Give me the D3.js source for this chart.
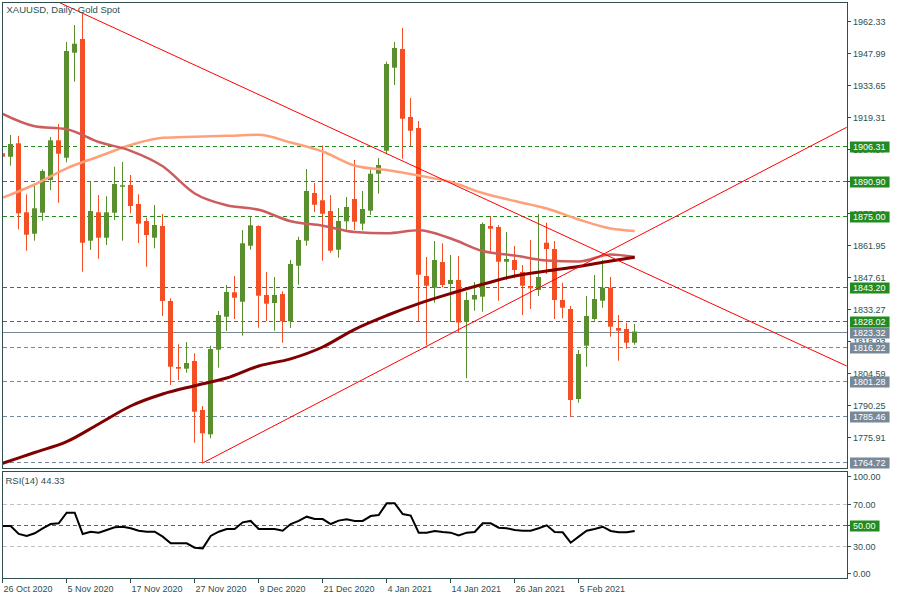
<!DOCTYPE html>
<html>
<head>
<meta charset="utf-8">
<script src="https://cdn.jsdelivr.net/npm/d3@7"></script>
<style>
  body { margin: 0; background: #fff; }
  svg { display: block; }
  text { font-family: "Liberation Sans", Arial, sans-serif; }
</style>
</head>
<body>
<svg id="chart" width="900" height="600"></svg>
<script>
// XAUUSD daily candles, 26 Oct 2020 .. 16 Feb 2021 (bar index 0..79)
var open  = [1903.17, 1901.65, 1907.66, 1876.74, 1867.15, 1876.56, 1891.21, 1909.00, 1901.20, 1948.26,
             1954.40, 1864.01, 1876.74, 1865.35, 1876.56, 1888.21, 1888.97, 1880.46, 1872.84, 1865.35,
             1870.60, 1836.99, 1807.41, 1806.65, 1810.10, 1788.14, 1777.25, 1815.16, 1829.95, 1840.89,
             1836.67, 1861.77, 1870.60, 1839.68, 1836.09, 1840.12, 1827.89, 1852.81, 1864.01, 1885.39,
             1882.12, 1877.32, 1859.98, 1872.70, 1882.70, 1871.63, 1877.45, 1894.03, 1904.34, 1941.53,
             1949.92, 1919.44, 1914.51, 1848.19, 1842.95, 1854.46, 1844.61, 1846.40, 1827.71, 1837.66,
             1838.92, 1870.60, 1870.15, 1854.60, 1855.36, 1849.98, 1843.71, 1841.92, 1863.11, 1860.29,
             1837.44, 1833.40, 1793.07, 1816.96, 1828.92, 1837.12, 1842.95, 1824.89, 1824.44, 1818.30]
var high  = [1903.20, 1911.38, 1910.93, 1884.80, 1888.52, 1896.00, 1910.48, 1916.31, 1953.05, 1960.67,
             1965.91, 1890.32, 1884.49, 1883.91, 1897.17, 1899.29, 1893.45, 1884.80, 1874.32, 1880.01,
             1875.97, 1838.20, 1817.58, 1818.61, 1813.55, 1789.93, 1816.96, 1832.50, 1844.16, 1848.19,
             1868.81, 1874.94, 1870.91, 1850.00, 1847.74, 1841.33, 1855.36, 1865.80, 1896.14, 1889.87,
             1906.76, 1884.49, 1878.66, 1883.59, 1900.18, 1886.28, 1896.00, 1901.07, 1944.23, 1953.05,
             1959.33, 1927.96, 1917.65, 1856.70, 1863.87, 1862.84, 1857.60, 1857.15, 1841.16, 1845.50,
             1872.17, 1875.08, 1871.05, 1867.91, 1861.63, 1853.12, 1864.32, 1875.97, 1872.08, 1863.87,
             1845.19, 1834.75, 1815.03, 1839.23, 1848.64, 1855.36, 1847.74, 1830.71, 1827.26, 1826.68]
var low   = [1901.60, 1897.62, 1869.12, 1859.53, 1864.01, 1872.97, 1886.73, 1881.04, 1899.14, 1935.26,
             1850.12, 1859.84, 1855.94, 1862.08, 1873.29, 1864.01, 1876.29, 1862.98, 1852.36, 1860.60,
             1830.26, 1799.34, 1801.58, 1804.86, 1773.49, 1764.25, 1775.46, 1807.10, 1823.54, 1828.92,
             1821.44, 1859.98, 1825.02, 1828.02, 1823.68, 1818.30, 1824.89, 1844.29, 1861.77, 1876.87,
             1855.05, 1858.63, 1856.39, 1868.81, 1868.81, 1868.67, 1875.53, 1885.07, 1902.73, 1933.78,
             1900.76, 1906.45, 1827.89, 1817.27, 1836.22, 1843.13, 1827.58, 1822.87, 1802.35, 1832.64,
             1832.19, 1858.36, 1837.12, 1846.40, 1847.16, 1830.71, 1833.40, 1839.23, 1849.09, 1828.92,
             1829.24, 1784.87, 1791.41, 1807.55, 1828.16, 1833.99, 1820.99, 1810.24, 1815.61, 1817.40]
var close = [1901.65, 1907.34, 1876.29, 1866.70, 1878.53, 1895.24, 1909.00, 1903.00, 1949.02, 1952.29,
             1863.11, 1877.32, 1865.35, 1876.74, 1889.42, 1888.84, 1879.56, 1871.63, 1866.56, 1871.05,
             1836.99, 1807.55, 1806.65, 1809.20, 1787.38, 1777.70, 1815.48, 1830.71, 1841.02, 1838.47,
             1862.84, 1870.91, 1839.36, 1835.78, 1839.68, 1827.89, 1853.57, 1864.32, 1886.28, 1880.14,
             1876.11, 1859.53, 1872.84, 1879.11, 1872.52, 1878.21, 1894.03, 1897.93, 1943.19, 1950.36,
             1918.68, 1913.30, 1848.77, 1843.84, 1855.36, 1844.16, 1846.40, 1827.35, 1837.44, 1839.68,
             1871.49, 1869.39, 1854.60, 1855.81, 1850.88, 1843.84, 1842.68, 1847.74, 1860.29, 1837.44,
             1833.99, 1792.62, 1813.23, 1830.27, 1837.88, 1842.95, 1825.47, 1823.68, 1818.30, 1823.32]

var rsi14 = [49.1, 49.1, 41.6, 39.7, 42.2, 46.9, 50.9, 51.6, 61.6, 61.6,
             41.6, 43.7, 42.8, 45.3, 47.8, 48.4, 46.9, 44.7, 43.7, 43.7,
             39.1, 32.8, 32.8, 32.8, 28.7, 28.1, 39.7, 43.7, 46.2, 46.2,
             52.5, 53.8, 46.2, 46.2, 46.2, 44.7, 50.9, 53.8, 57.8, 55.6,
             55.6, 50.9, 54.1, 55.3, 53.8, 53.8, 58.4, 59.4, 70.3, 70.3,
             60.3, 58.8, 42.8, 42.8, 44.4, 43.4, 42.8, 40.3, 42.8, 43.4,
             51.6, 51.6, 47.5, 46.9, 45.3, 44.7, 44.7, 46.9, 49.7, 43.4,
             43.1, 33.4, 39.1, 44.7, 46.2, 48.4, 44.4, 43.1, 43.1, 44.33]

// moving averages read at every 4th bar
var maIdx     = [0, 4, 8, 12, 16, 20, 24, 28, 32, 36, 40, 44, 48, 52, 56, 60, 64, 68, 72, 76, 79]
var maSalmon  = [1883.28, 1889.20, 1896.46, 1901.74, 1906.90, 1910.12, 1910.61, 1911.02, 1911.47, 1908.02,
                 1903.98, 1897.62, 1895.69, 1893.23, 1890.31, 1885.39, 1881.80, 1878.44, 1873.51, 1869.48, 1868.36]
var maIndian  = [1920.79, 1915.28, 1913.93, 1908.24, 1904.30, 1897.35, 1885.16, 1879.87, 1877.86, 1872.75,
                 1870.73, 1867.91, 1867.33, 1868.67, 1865.00, 1859.39, 1857.38, 1855.14, 1854.69, 1857.83, 1856.71]
var maMaroon  = [1764.26, 1769.10, 1773.94, 1781.87, 1789.93, 1795.31, 1799.03, 1802.48, 1807.86, 1811.08,
                 1816.38, 1824.31, 1830.49, 1835.83, 1840.35, 1844.47, 1848.19, 1850.43, 1852.45, 1854.92, 1856.57]

var priceTicks  = [1962.33, 1947.99, 1933.65, 1919.31, 1904.97, 1890.63, 1876.29, 1861.95,
                   1847.61, 1833.27, 1818.93, 1804.59, 1790.25, 1775.91]
var greenLevels = [1906.31, 1890.90, 1875.00, 1843.20, 1828.02]
var grayLevels  = [1816.22, 1801.28, 1785.46, 1764.72]
var lastPrice   = 1823.32

var rsiTicks  = [100, 70, 50, 30, 0]
var rsiLast   = 44.33

var dateTickIdx    = [0, 8, 16, 24, 32, 40, 48, 56, 64, 72]
var dateTickLabels = ['26 Oct 2020', '5 Nov 2020', '17 Nov 2020', '27 Nov 2020', '9 Dec 2020',
                      '21 Dec 2020', '4 Jan 2021', '14 Jan 2021', '26 Jan 2021', '5 Feb 2021']

// trend lines as [bar index, price]
var trendDown = [[10, 1965.9], [105.5, 1807.86]]
var trendUp   = [[25, 1764.4], [105.5, 1914.83]]

var frameColor = '#2f4f4f'
var upColor = '#5a8f30', downColor = '#f44e24'
var levelGreen = '#228b22', levelGray = '#778899'

var svg = d3.select('#chart')

var x  = d3.scaleLinear().domain([0, 105.5]).range([2.7, 846.7])
var y  = d3.scaleLinear().domain([1775.91, 1962.33]).range([437.3, 21.3])
var yr = d3.scaleLinear().domain([0, 100]).range([578.3, 471.7])

var defs = svg.append('defs')
defs.append('clipPath').attr('id', 'clipMain')
  .append('rect').attr('x', 3).attr('y', 3).attr('width', 844).attr('height', 465)
defs.append('clipPath').attr('id', 'clipRsi')
  .append('rect').attr('x', 3).attr('y', 472).attr('width', 844).attr('height', 106)

var main = svg.append('g').attr('clip-path', 'url(#clipMain)')

// horizontal levels
function levelLine(g, yy, color, dash) {
  g.append('line')
    .attr('x1', 3).attr('x2', 847)
    .attr('y1', Math.round(yy) + 0.5).attr('y2', Math.round(yy) + 0.5)
    .attr('stroke', color).attr('stroke-width', 1)
    .attr('stroke-dasharray', dash)
}
greenLevels.forEach(function (p) { levelLine(main, y(p), levelGreen, '4,3') })
grayLevels.forEach(function (p) { levelLine(main, y(p), levelGray, '4,3') })
levelLine(main, y(lastPrice), levelGray, null)

// candles
var bars = d3.range(open.length)
var candle = main.append('g').selectAll('g').data(bars).enter().append('g')
candle.append('line')
  .attr('x1', function (i) { return Math.floor(x(i)) + 0.5 })
  .attr('x2', function (i) { return Math.floor(x(i)) + 0.5 })
  .attr('y1', function (i) { return y(high[i]) })
  .attr('y2', function (i) { return y(low[i]) })
  .attr('stroke', function (i) { return close[i] >= open[i] ? upColor : downColor })
  .attr('stroke-width', 1)
candle.append('rect')
  .attr('x', function (i) { return Math.floor(x(i)) - 2 })
  .attr('width', 5)
  .attr('y', function (i) { return y(Math.max(open[i], close[i])) })
  .attr('height', function (i) { return Math.max(1.5, Math.abs(y(open[i]) - y(close[i]))) })
  .attr('fill', function (i) { return close[i] >= open[i] ? upColor : downColor })

// moving averages
var maLine = d3.line()
  .curve(d3.curveMonotoneX)
  .x(function (d) { return x(d[0]) })
  .y(function (d) { return y(d[1]) })
function drawMA(values, color, w) {
  main.append('path')
    .datum(maIdx.map(function (idx, k) { return [idx, values[k]] }))
    .attr('d', maLine)
    .attr('fill', 'none').attr('stroke', color).attr('stroke-width', w)
}
drawMA(maSalmon, '#ffa07a', 2.5)
drawMA(maIndian, '#cd5c5c', 2.5)
drawMA(maMaroon, '#800000', 3)

// trend lines
function priceAt(t, i) {
  var k = (t[1][1] - t[0][1]) / (t[1][0] - t[0][0])
  return t[0][1] + k * (i - t[0][0])
}
main.append('line')
  .attr('x1', x(0)).attr('y1', y(priceAt(trendDown, 0)))
  .attr('x2', x(trendDown[1][0])).attr('y2', y(trendDown[1][1]))
  .attr('stroke', '#ff0000').attr('stroke-width', 1)
main.append('line')
  .attr('x1', x(trendUp[0][0])).attr('y1', y(trendUp[0][1]))
  .attr('x2', x(trendUp[1][0])).attr('y2', y(trendUp[1][1]))
  .attr('stroke', '#ff0000').attr('stroke-width', 1)

// frames
svg.append('rect').attr('x', 2.5).attr('y', 2.5).attr('width', 845).attr('height', 466)
  .attr('fill', 'none').attr('stroke', frameColor)
svg.append('rect').attr('x', 2.5).attr('y', 471.5).attr('width', 845).attr('height', 107)
  .attr('fill', 'none').attr('stroke', frameColor)

// price axis
var axisG = svg.append('g')
priceTicks.forEach(function (p) {
  var yy = Math.round(y(p)) + 0.5
  axisG.append('line').attr('x1', 847.5).attr('x2', 851).attr('y1', yy).attr('y2', yy)
    .attr('stroke', frameColor)
  axisG.append('text').attr('x', 853).attr('y', yy).attr('dy', '0.35em')
    .attr('font-size', 9).attr('fill', frameColor).text(p.toFixed(2))
})

function tagLabel(yy, value, color) {
  var g = svg.append('g')
  var t = g.append('text').attr('x', 853).attr('y', yy).attr('dy', '0.35em')
    .attr('font-size', 9).attr('fill', '#fff').text(value)
  var w = t.node().getComputedTextLength()
  g.insert('rect', 'text').attr('x', 850).attr('y', yy - 5).attr('width', w + 7).attr('height', 11)
    .attr('fill', color)
}
greenLevels.forEach(function (p) { tagLabel(Math.round(y(p)) + 0.5, p.toFixed(2), levelGreen) })
grayLevels.forEach(function (p) { tagLabel(Math.round(y(p)) + 0.5, p.toFixed(2), levelGray) })
tagLabel(Math.round(y(lastPrice)) + 0.5, lastPrice.toFixed(2), levelGray)

svg.append('text').attr('x', 6.5).attr('y', 13).attr('font-size', 9.5).attr('fill', frameColor)
  .text('XAUUSD, Daily:  Gold Spot')

// RSI panel
var rsiG = svg.append('g').attr('clip-path', 'url(#clipRsi)')
;[70, 30].forEach(function (v) { levelLine(rsiG, yr(v), '#c0c0c0', '4,3') })
levelLine(rsiG, yr(50), levelGreen, '4,3')

rsiG.append('path')
  .datum(rsi14)
  .attr('d', d3.line().x(function (d, i) { return x(i) }).y(function (d) { return yr(d) }))
  .attr('fill', 'none').attr('stroke', '#000').attr('stroke-width', 2)

rsiTicks.forEach(function (v) {
  var yy = Math.round(Math.min(573, Math.max(476, yr(v)))) + 0.5
  svg.append('line').attr('x1', 847.5).attr('x2', 851).attr('y1', yy).attr('y2', yy)
    .attr('stroke', frameColor)
  svg.append('text').attr('x', 853).attr('y', yy).attr('dy', '0.35em')
    .attr('font-size', 9).attr('fill', frameColor).text(v.toFixed(2))
})
tagLabel(Math.round(yr(50)) + 0.5, '50.00', levelGreen)

svg.append('text').attr('x', 5.5).attr('y', 484).attr('font-size', 9.5).attr('fill', frameColor)
  .text('RSI(14) ' + rsiLast.toFixed(2))

// date axis
dateTickIdx.forEach(function (idx, k) {
  var xx = Math.floor(x(idx)) + 0.5
  svg.append('line').attr('x1', xx).attr('x2', xx).attr('y1', 578.5).attr('y2', 583)
    .attr('stroke', frameColor)
  svg.append('text').attr('x', xx + 1).attr('y', 591.5)
    .attr('font-size', 9).attr('fill', frameColor).text(dateTickLabels[k])
})
</script>
</body>
</html>
